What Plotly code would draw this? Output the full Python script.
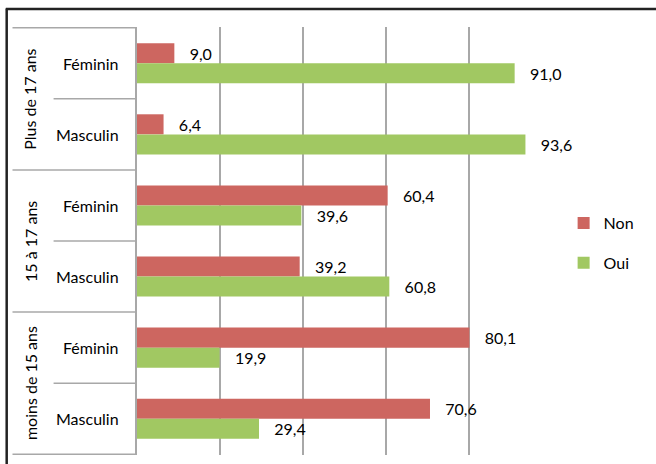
import plotly.graph_objects as go

# data
groups = ["Plus de 17 ans", "15 à 17 ans", "moins de 15 ans"]
sexes = ["Féminin", "Masculin"]
non_values = [9.0, 6.4, 60.4, 39.2, 80.1, 70.6]
oui_values = [91.0, 93.6, 39.6, 60.8, 19.9, 29.4]

red = "#CD6660"
green = "#A1C862"
grid_grey = "#A8A8A8"
font_name = "Lato, 'Open Sans', sans-serif"
fsize = 16

# one category per (group, sex) pair, top to bottom
cats = [g + " | " + s for g in groups for s in sexes]
pad = "\u00a0\u00a0\u00a0"

fig = go.Figure()
fig.add_trace(go.Bar(
    name="Non", y=cats, x=non_values, orientation="h",
    marker=dict(color=red, line_width=0),
    texttemplate=pad + "%{x:.1f}", textposition="outside",
    textfont=dict(color="black", size=fsize, family=font_name),
    cliponaxis=False, legendgroup="non",
))
fig.add_trace(go.Bar(
    name="Oui", y=cats, x=oui_values, orientation="h",
    marker=dict(color=green, line_width=0),
    texttemplate=pad + "%{x:.1f}", textposition="outside",
    textfont=dict(color="black", size=fsize, family=font_name),
    cliponaxis=False, legendgroup="oui",
))

# category table on the left: sub labels, rotated group labels, divider lines
annotations = []
shapes = []
for i, c in enumerate(cats):
    annotations.append(dict(
        x=-0.038, xref="paper", y=i, yref="y", text=sexes[i % 2],
        showarrow=False, xanchor="right", font=dict(size=fsize, color="black", family=font_name),
    ))
for gi, g in enumerate(groups):
    annotations.append(dict(
        x=-0.258, xref="paper", y=gi * 2 + 0.5, yref="y", text=g, textangle=-90,
        showarrow=False, xanchor="center", yanchor="middle",
        font=dict(size=fsize, color="black", family=font_name),
    ))
for k in range(len(cats) + 1):
    start = -0.30 if k % 2 == 0 else -0.201
    shapes.append(dict(
        type="line", xref="paper", yref="y", x0=start, x1=0,
        y0=k - 0.5, y1=k - 0.5, line=dict(color=grid_grey, width=1.5),
    ))

# outer frame of the cropped picture (top and left)
shapes.append(dict(type="line", xref="paper", yref="paper", x0=-0.316, x1=1.3,
                   y0=1.042, y1=1.042, line=dict(color="#222222", width=2.5)))
shapes.append(dict(type="line", xref="paper", yref="paper", x0=-0.314, x1=-0.314,
                   y0=1.043, y1=-0.1, line=dict(color="#222222", width=2.5)))

fig.update_layout(
    width=656, height=464,
    margin=dict(l=137, r=104, t=27, b=9),
    paper_bgcolor="white", plot_bgcolor="white",
    separators=", ",
    barmode="group", bargap=0.435, bargroupgap=0,
    font=dict(family=font_name, size=fsize, color="black"),
    showlegend=True,
    legend=dict(x=1.028, y=0.495, xanchor="left", yanchor="middle",
                traceorder="grouped", tracegroupgap=16,
                font=dict(size=fsize, color="black", family=font_name)),
    annotations=annotations,
    shapes=shapes,
)
fig.update_xaxes(range=[0, 100], dtick=20, showgrid=True, gridcolor=grid_grey, gridwidth=1.5,
                 showticklabels=False, zeroline=False, showline=False, ticks="")
fig.update_yaxes(type="category", autorange="reversed", showticklabels=False, ticks="",
                 showgrid=False, showline=True, linecolor=grid_grey, linewidth=1.5, zeroline=False)

fig.write_html("out.html", config={"displayModeBar": False},
               post_script="document.body.style.margin='0';")
